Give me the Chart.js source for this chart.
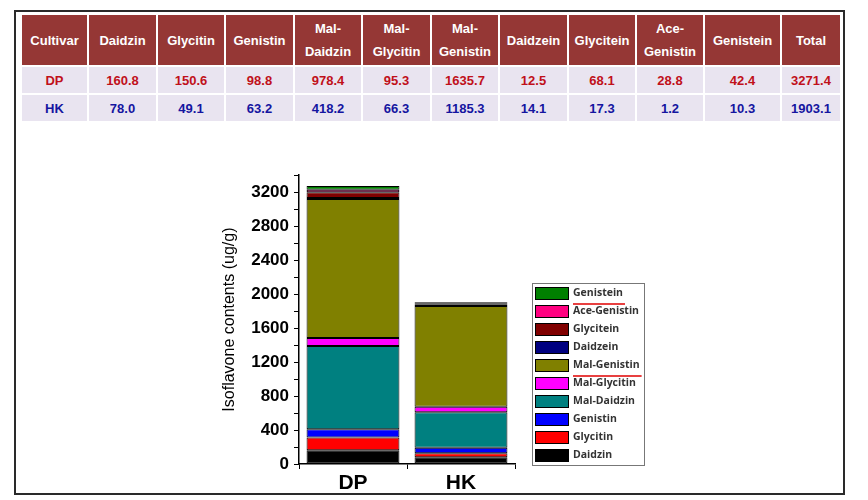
<!DOCTYPE html>
<html>
<head>
<meta charset="utf-8">
<script src="https://cdn.jsdelivr.net/npm/chart.js@4"></script>
<style>
  body { margin: 0; background: #fff; width: 868px; height: 500px; position: relative; overflow: hidden; }
  #frame { position: absolute; left: 14px; top: 10px; width: 827px; height: 481px; border: 2px solid #2a2a2a; }
  #tbl { position: absolute; left: 20px; top: 13px; border-collapse: collapse; table-layout: fixed;
         font-family: "Liberation Sans", Arial, sans-serif; font-weight: bold; font-size: 13px; text-align: center; }
  #tbl td, #tbl th { border: 2px solid #fff; padding: 0; }
  #tbl th { background: #953735; color: #fff; height: 50px; line-height: 23px; }
  #tbl td { background: #e9e4f0; height: 26px; }
  #tbl tr.dp td { color: #c0101a; }
  #tbl tr.hk td { color: #1515a0; }
  #wrap { position: absolute; left: 200px; top: 160px; width: 460px; height: 335px; }
</style>
</head>
<body>
<div id="frame"></div>
<table id="tbl"><colgroup id="cols"></colgroup><thead><tr id="head"></tr></thead><tbody id="body"></tbody></table>
<div id="wrap"><canvas id="myChart" width="460" height="335"></canvas></div>
<script>
// данные
const cultivars = ["DP", "HK"];
const compounds = ["Daidzin", "Glycitin", "Genistin", "Mal-Daidzin", "Mal-Glycitin",
                   "Mal-Genistin", "Daidzein", "Glycitein", "Ace-Genistin", "Genistein"];
const headLabels = ["Cultivar", "Daidzin", "Glycitin", "Genistin", "Mal-<br>Daidzin", "Mal-<br>Glycitin",
                    "Mal-<br>Genistin", "Daidzein", "Glycitein", "Ace-<br>Genistin", "Genistein", "Total"];
const dpValues = [160.8, 150.6, 98.8, 978.4, 95.3, 1635.7, 12.5, 68.1, 28.8, 42.4];
const hkValues = [78.0, 49.1, 63.2, 418.2, 66.3, 1185.3, 14.1, 17.3, 1.2, 10.3];
const totals = [3271.4, 1903.1];
const colors = ["#000000", "#ff0000", "#0000ff", "#008080", "#ff00ff",
                "#808000", "#000080", "#800000", "#ff0080", "#008000"];
const colWidths = [67, 69, 68, 69, 68, 69, 68, 69, 68, 68, 77, 60];
const underlined = ["Genistein", "Mal-Genistin"];

// таблица
const cols = document.getElementById("cols");
colWidths.forEach(w => { const c = document.createElement("col"); c.style.width = w + "px"; cols.appendChild(c); });
document.getElementById("head").innerHTML = headLabels.map(h => `<th>${h}</th>`).join("");
const rows = [dpValues, hkValues];
document.getElementById("body").innerHTML = rows.map((vals, i) =>
  `<tr class="${cultivars[i].toLowerCase()}"><td>${cultivars[i]}</td>` +
  vals.map(v => `<td>${v.toFixed(1)}</td>`).join("") +
  `<td>${totals[i].toFixed(1)}</td></tr>`).join("");

// легенда в рамке
const boxLegend = {
  id: "boxLegend",
  afterDraw(chart) {
    const c = chart.ctx;
    const x0 = 332, y0 = 123, w = 112, h = 182;
    c.save();
    c.strokeStyle = "#777";
    c.lineWidth = 1;
    c.strokeRect(x0 + 0.5, y0 + 0.5, w, h);
    const ds = chart.data.datasets.slice().reverse();
    c.font = "bold 10.5px 'Open Sans', sans-serif";
    c.textBaseline = "middle";
    ds.forEach((d, i) => {
      const yc = y0 + 10 + i * 18;
      c.fillStyle = d.backgroundColor;
      c.fillRect(x0 + 3, yc - 6, 34, 13);
      c.strokeStyle = "#000";
      c.strokeRect(x0 + 3.5, yc - 5.5, 33, 12);
      c.fillStyle = "#333";
      c.fillText(d.label, x0 + 41, yc);
      if (underlined.includes(d.label)) {
        const tw = c.measureText(d.label).width;
        c.strokeStyle = "#e00000";
        c.lineWidth = 1.5;
        c.beginPath();
        c.moveTo(x0 + 41, yc + 11);
        c.lineTo(x0 + 43 + tw, yc + 11);
        c.stroke();
        c.lineWidth = 1;
      }
    });
    c.restore();
  }
};

const ctx = document.getElementById("myChart").getContext("2d");
new Chart(ctx, {
  type: "bar",
  data: {
    labels: cultivars,
    datasets: compounds.map((name, i) => ({
      label: name,
      data: [dpValues[i], hkValues[i]],
      backgroundColor: colors[i],
      borderColor: "#000",
      borderWidth: 1,
      borderSkipped: false,
      barPercentage: 1,
      categoryPercentage: 0.86
    }))
  },
  options: {
    responsive: false,
    animation: false,
    layout: { padding: { left: 20, top: 13, right: 145, bottom: 0 } },
    plugins: { legend: { display: false }, tooltip: { enabled: false } },
    scales: {
      x: {
        stacked: true,
        afterFit: s => { s.height = 31; },
        grid: { display: true, drawOnChartArea: false, tickLength: 5, color: "#000", lineWidth: 1 },
        border: { display: true, color: "#000", width: 1.5 },
        ticks: { color: "#000", padding: 2, font: { family: "'Liberation Sans', Arial", size: 21, weight: "bold" } }
      },
      y: {
        stacked: true,
        min: 0,
        max: 3400,
        afterFit: s => { s.width = 79; },
        grid: { display: true, drawOnChartArea: false, tickLength: 5, color: "#000", lineWidth: 1 },
        border: { display: true, color: "#000", width: 1.5 },
        ticks: {
          stepSize: 200,
          autoSkip: false,
          padding: 5,
          color: "#000",
          font: { family: "'Liberation Sans', Arial", size: 17, weight: "bold" },
          callback: v => (v % 400 === 0 && v < 3400) ? String(v) : ""
        },
        title: {
          display: true,
          text: "Isoflavone contents (ug/g)",
          color: "#000",
          padding: { top: 0, bottom: 0 },
          font: { family: "'Liberation Sans', Arial", size: 16 }
        }
      }
    }
  },
  plugins: [boxLegend]
});
</script>
</body>
</html>
